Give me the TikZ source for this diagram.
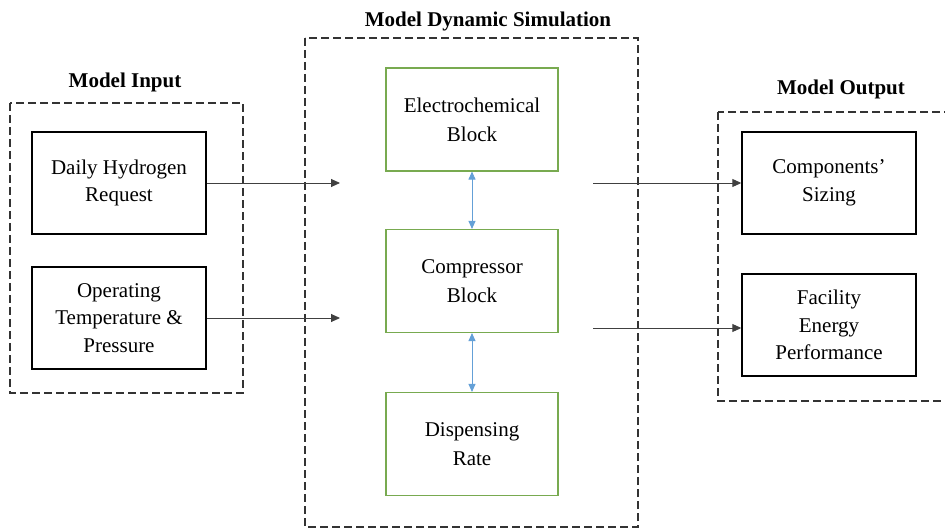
\documentclass[tikz,border=0pt]{standalone}
\usepackage{fontspec}
\setmainfont{Liberation Serif}
\usetikzlibrary{arrows.meta}

\definecolor{blockgreen}{RGB}{120,170,80}
\definecolor{linkblue}{RGB}{100,160,215}

\begin{document}
\begin{tikzpicture}[x=1pt,y=-1pt,
  inbox/.style={draw, line width=1.4pt, minimum width=174pt, minimum height=102pt, align=center, font=\fontsize{21}{27.5}\selectfont},
  simbox/.style={draw=blockgreen, line width=1.1pt, minimum width=172pt, minimum height=103pt, align=center, font=\fontsize{21}{29}\selectfont},
  group/.style={draw=black!80, line width=1.3pt, dash pattern=on 8pt off 4pt},
  heading/.style={font=\fontsize{21}{25}\bfseries\selectfont, anchor=base},
  feed/.style={-{Triangle[length=9pt,width=8pt]}, line width=0.9pt, draw=black!75},
  link/.style={{Triangle[length=8pt,width=7pt]}-{Triangle[length=8pt,width=7pt]}, line width=0.9pt, draw=linkblue, fill=linkblue}]
\path[use as bounding box, clip] (0,0) rectangle (945,529);

%Groups:
\draw[group] (10,103) rectangle (243,393);
\draw[group] (305,38) rectangle (638,527);
\draw[group] (718,112) rectangle (960,401);
\node (TI) [heading] at (125,88) {Model Input};
\node (TS) [heading] at (488,27) {Model Dynamic Simulation};
\node (TO) [heading] at (841,95) {Model Output};

%Input:
\node (DH) [inbox] at (119,183) {Daily Hydrogen\\Request};
\node (OT) [inbox] at (119,318) {Operating\\Temperature \&\\Pressure};

%Simulation:
\node (EB) [simbox] at (472,119.5) {Electrochemical\\Block};
\node (CB) [simbox] at (472,281) {Compressor\\Block};
\node (DR) [simbox] at (472,444) {Dispensing\\Rate};

%Output:
\node (CS) [inbox] at (829,183) {Components’\\Sizing};
\node (FE) [inbox] at (829,325) {Facility\\Energy\\Performance};

\coordinate (DHin) at (340,183);
\coordinate (OTin) at (340,318);
\coordinate (CSout) at (593,183);
\coordinate (FEout) at (593,328);

\draw[feed] (DH) -- (DHin);
\draw[feed] (OT) -- (OTin);
\draw[feed] (CSout) -- (CS);
\draw[feed] (FEout) -- (FEout -| FE.west);

\draw[link] (EB) -- (CB);
\draw[link] (CB) -- (DR);

\end{tikzpicture}
\end{document}
